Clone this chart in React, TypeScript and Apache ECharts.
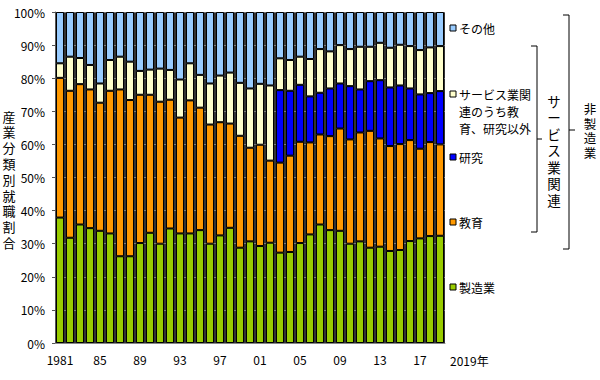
import React, { useEffect, useRef } from "react";
import * as echarts from "echarts";

const years = [
  "1981","1982","1983","1984","1985","1986","1987","1988","1989","1990",
  "1991","1992","1993","1994","1995","1996","1997","1998","1999","2000",
  "2001","2002","2003","2004","2005","2006","2007","2008","2009","2010",
  "2011","2012","2013","2014","2015","2016","2017","2018","2019",
];

const manufacturing = [
  37.9, 31.8, 35.8, 34.7, 33.9, 33.1, 26.2, 26.2, 30.2, 33.3,
  30.0, 34.6, 33.1, 33.1, 34.1, 30.0, 32.5, 34.8, 28.8, 30.7,
  29.3, 30.3, 27.3, 27.5, 30.2, 32.8, 35.8, 34.1, 33.9, 30.0,
  30.7, 28.8, 29.1, 27.8, 28.1, 30.8, 31.6, 32.3, 32.4,
];

const education = [
  42.2, 44.4, 42.4, 41.9, 38.7, 43.1, 50.4, 47.2, 44.8, 41.7,
  42.9, 38.9, 35.0, 40.2, 37.0, 36.0, 34.2, 31.5, 33.8, 28.3,
  30.6, 24.8, 27.2, 29.1, 30.6, 27.8, 27.2, 28.4, 30.9, 31.5,
  32.9, 35.3, 32.7, 31.7, 32.0, 30.5, 27.1, 28.4, 27.6,
];

const research = [
  null, null, null, null, null, null, null, null, null, null,
  null, null, null, null, null, null, null, null, null, null,
  null, null, 21.9, 19.6, 17.2, 13.9, 12.6, 14.4, 13.6, 16.1,
  13.0, 15.0, 17.6, 17.7, 17.7, 15.6, 16.4, 14.8, 16.1,
];

const otherService = [
  4.4, 10.3, 7.9, 7.4, 5.8, 9.3, 9.9, 11.6, 7.2, 7.6,
  10.0, 9.0, 11.5, 11.2, 9.9, 12.4, 14.1, 15.4, 16.0, 17.9,
  18.4, 22.7, 9.6, 9.3, 8.5, 11.3, 13.2, 11.2, 11.6, 11.2,
  12.9, 10.4, 11.3, 12.0, 12.3, 12.8, 13.4, 13.8, 13.6,
];

const others = [
  15.5, 13.5, 13.9, 16.0, 21.6, 14.5, 13.5, 15.0, 17.8, 17.4,
  17.1, 17.5, 20.4, 15.5, 19.0, 21.6, 19.2, 18.3, 21.4, 23.1,
  21.7, 22.2, 14.0, 14.5, 13.5, 14.2, 11.2, 11.9, 10.0, 11.2,
  10.5, 10.5, 9.3, 10.8, 9.9, 10.3, 11.5, 10.7, 10.3,
];

const seriesNames = ["製造業", "教育", "研究", "サービス業関連のうち教育、研究以外", "その他"];
const seriesColors = ["#99CC00", "#FF9900", "#0000FF", "#FFFFCC", "#99CCFF"];
const seriesData = [manufacturing, education, research, otherService, others];

const legendItems = [
  { label: "その他", color: "#99CCFF", y: 28 },
  { label: "サービス業関\n連のうち教\n育、研究以外", color: "#FFFFCC", y: 94 },
  { label: "研究", color: "#0000FF", y: 157 },
  { label: "教育", color: "#FF9900", y: 222 },
  { label: "製造業", color: "#99CC00", y: 287 },
];

const yAxisTitle = "産業分類別就職割合";
const serviceGroupTitle = "サービス業関連";
const nonMfgTitle = "非製造業";

const FONT = '"Noto Sans CJK JP", "Noto Sans", sans-serif';
const VFONT = '"Liberation Sans", "Noto Sans CJK JP", sans-serif';

function verticalText(text: string, x: number, y0: number, step: number, size: number) {
  return Array.from(text).map((ch, k) => ({
    type: "text",
    x,
    y: y0 + k * step,
    style: {
      text: ch,
      fill: "#000",
      font: `${size}px ${VFONT}`,
      align: "center",
      verticalAlign: "middle",
    },
  }));
}

export default function App() {
  const ref = useRef<HTMLDivElement>(null);

  useEffect(() => {
    if (!ref.current) return;
    const chart = echarts.init(ref.current, null, { renderer: "svg" });

    const graphics: any[] = [];
    legendItems.forEach((it) => {
      graphics.push({
        type: "rect",
        shape: { x: 450, y: it.y - 3, width: 6, height: 6 },
        style: { fill: it.color, stroke: "#000", lineWidth: 1 },
      });
      graphics.push({
        type: "text",
        x: 459,
        y: it.y - 8.5,
        style: {
          text: it.label,
          fill: "#000",
          font: `12px ${FONT}`,
          verticalAlign: "top",
          lineHeight: 17,
        },
      });
    });

    // inner bracket
    graphics.push({
      type: "polyline",
      shape: { points: [[531, 46], [537, 46], [537, 232], [531, 232]] },
      style: { stroke: "#000", lineWidth: 1, fill: "none" },
    });
    graphics.push({
      type: "line",
      shape: { x1: 537, y1: 139, x2: 542, y2: 139 },
      style: { stroke: "#000", lineWidth: 1 },
    });
    // outer bracket
    graphics.push({
      type: "polyline",
      shape: { points: [[563, 15], [569, 15], [569, 249], [563, 249]] },
      style: { stroke: "#000", lineWidth: 1, fill: "none" },
    });
    graphics.push({
      type: "line",
      shape: { x1: 569, y1: 130, x2: 575, y2: 130 },
      style: { stroke: "#000", lineWidth: 1 },
    });

    graphics.push(...verticalText(serviceGroupTitle, 554, 102, 16.5, 13.5));
    graphics.push(...verticalText(nonMfgTitle, 590, 110, 14.5, 12.5));
    graphics.push(...verticalText(yAxisTitle, 9, 117, 15.8, 13));

    graphics.push({
      type: "text",
      x: 450,
      y: 360,
      style: {
        text: "2019年",
        fill: "#000",
        font: `12px ${FONT}`,
        align: "left",
        verticalAlign: "middle",
      },
    });

    chart.setOption({
      animation: false,
      textStyle: { fontFamily: FONT },
      grid: {
        left: 55,
        right: 155,
        top: 12,
        bottom: 37,
        show: true,
        backgroundColor: "#333333",
        borderWidth: 0,
      },
      xAxis: {
        type: "category",
        data: years,
        axisLine: { show: true, lineStyle: { color: "#888" } },
        axisTick: { show: false },
        axisLabel: {
          interval: 3,
          margin: 10,
          color: "#000",
          fontSize: 12,
          fontFamily: FONT,
          formatter: (v: string, i: number) => (i === 0 ? v : v.slice(2)),
        },
      },
      yAxis: {
        type: "value",
        min: 0,
        max: 100,
        interval: 10,
        axisLine: { show: true, lineStyle: { color: "#555" } },
        axisTick: { show: true, length: 3, lineStyle: { color: "#555" } },
        axisLabel: {
          formatter: "{value}%",
          color: "#000",
          fontSize: 12,
          margin: 10,
          fontFamily: FONT,
        },
        splitLine: { show: true, lineStyle: { color: "#777", width: 1 } },
      },
      series: seriesNames.map((name, i) => ({
        name,
        type: "bar",
        stack: "total",
        data: seriesData[i],
        barCategoryGap: "20%",
        itemStyle: { color: seriesColors[i], borderColor: "#000", borderWidth: 1 },
      })),
      graphic: graphics,
    });

    return () => chart.dispose();
  }, []);

  return (
    <div
      ref={ref}
      style={{ position: "fixed", left: 0, top: 0, width: 600, height: 380, background: "#fff" }}
    />
  );
}
